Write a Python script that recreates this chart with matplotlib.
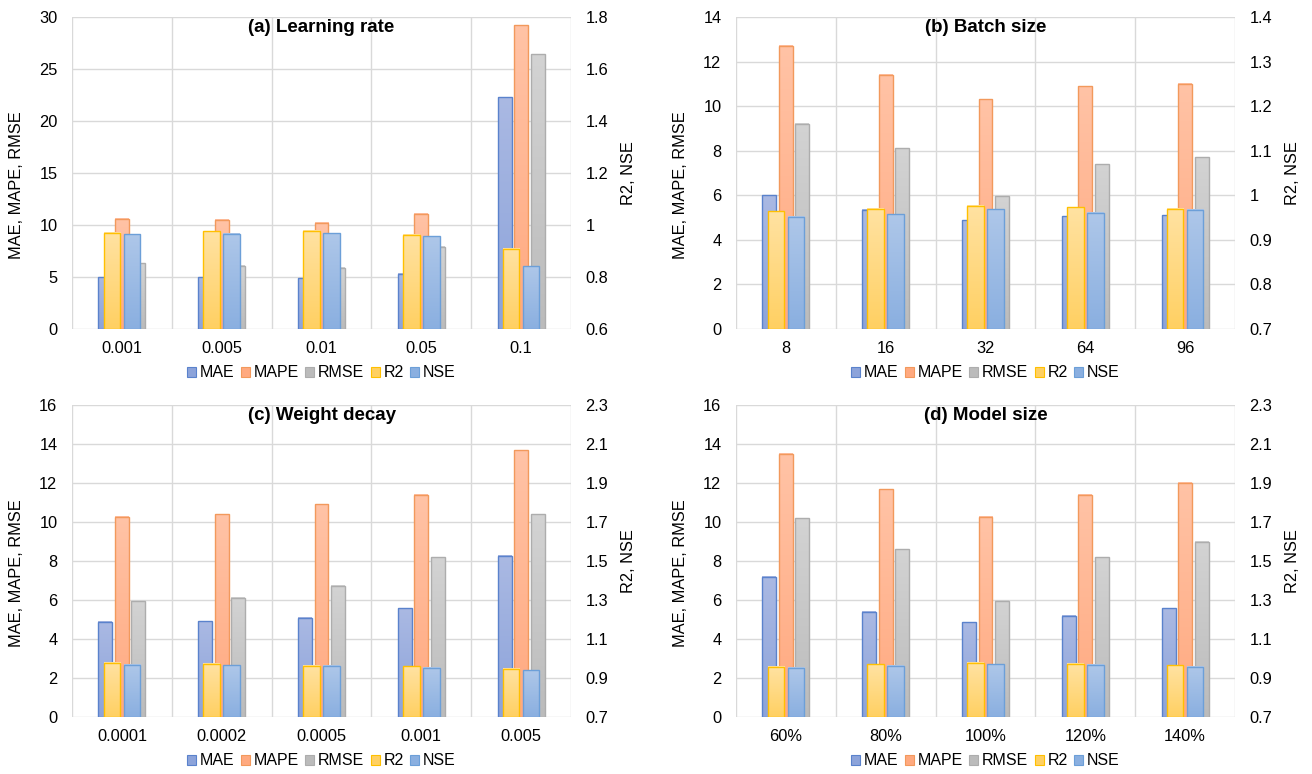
import numpy as np
import matplotlib
matplotlib.use("Agg")
import matplotlib.pyplot as plt
from matplotlib.colors import LinearSegmentedColormap
from matplotlib.patches import Patch

plt.rcParams['font.family'] = ['Liberation Sans', 'DejaVu Sans']

# ---- data -------------------------------------------------------------
a_cats = ['0.001', '0.005', '0.01', '0.05', '0.1']
a_mae = [5.0, 5.0, 4.9, 5.3, 22.3]
a_mape = [10.6, 10.5, 10.2, 11.1, 29.2]
a_rmse = [6.3, 6.1, 5.9, 7.9, 26.4]
a_r2 = [0.971, 0.975, 0.978, 0.962, 0.909]
a_nse = [0.964, 0.966, 0.969, 0.957, 0.841]

b_cats = ['8', '16', '32', '64', '96']
b_mae = [6.0, 5.35, 4.87, 5.07, 5.1]
b_mape = [12.7, 11.4, 10.3, 10.9, 11.0]
b_rmse = [9.2, 8.1, 5.95, 7.4, 7.7]
b_r2 = [0.964, 0.970, 0.976, 0.973, 0.970]
b_nse = [0.952, 0.957, 0.969, 0.961, 0.967]

c_cats = ['0.0001', '0.0002', '0.0005', '0.001', '0.005']
c_mae = [4.88, 4.91, 5.1, 5.58, 8.28]
c_mape = [10.28, 10.4, 10.9, 11.41, 13.67]
c_rmse = [5.94, 6.11, 6.72, 8.18, 10.4]
c_r2 = [0.977, 0.974, 0.964, 0.960, 0.948]
c_nse = [0.969, 0.965, 0.962, 0.952, 0.941]

d_cats = ['60%', '80%', '100%', '120%', '140%']
d_mae = [7.19, 5.39, 4.86, 5.2, 5.58]
d_mape = [13.5, 11.69, 10.28, 11.41, 12.01]
d_rmse = [10.2, 8.6, 5.95, 8.18, 9.0]
d_r2 = [0.957, 0.970, 0.979, 0.972, 0.965]
d_nse = [0.953, 0.962, 0.970, 0.967, 0.957]

titles = ['(a) Learning rate', '(b) Batch size', '(c) Weight decay', '(d) Model size']
left_ranges = [(0, 30, 5), (0, 14, 2), (0, 16, 2), (0, 16, 2)]
right_ranges = [(0.6, 1.8, 0.2), (0.7, 1.4, 0.1), (0.7, 2.3, 0.2), (0.7, 2.3, 0.2)]

# ---- styling ----------------------------------------------------------
series_style = {
    # name: (top colour, bottom colour, edge colour)
    'MAE':  ('#AAB9E3', '#8CA3DA', '#5A82CC'),
    'MAPE': ('#FFC3A6', '#FFA97F', '#F2995C'),
    'RMSE': ('#D3D3D3', '#BBBBBB', '#ADADAD'),
    'R2':   ('#FFE2A2', '#FFD062', '#FFC000'),
    'NSE':  ('#AEC7E9', '#8AAFE0', '#6C9FD8'),
}
GRID = '#D9D9D9'
FS = 11.8

W1, STEP1 = 0.14, 0.165      # left-axis bars
W2, OFF2 = 0.165, 0.10       # right-axis bars

grad = np.linspace(0, 1, 256).reshape(-1, 1)


def gradient_bars(ax, x, heights, base, width, name, z):
    top, bottom, edge = series_style[name]
    cmap = LinearSegmentedColormap.from_list(name, [bottom, top])
    bars = ax.bar(x, np.asarray(heights) - base, width, bottom=base,
                  facecolor='none', edgecolor=edge, linewidth=1.0, zorder=z + 0.1)
    for p in bars.patches:
        x0, y0 = p.get_x(), p.get_y()
        ax.imshow(grad, extent=(x0, x0 + p.get_width(), y0, y0 + p.get_height()),
                  origin='lower', cmap=cmap, aspect='auto', interpolation='bicubic',
                  clip_path=p, clip_on=True, zorder=z)
    return bars


def fmt(v):
    return f'{round(v, 3):g}'


fig = plt.figure(figsize=(13.12, 7.74), dpi=100)
W, H = 1312, 774
rects = [(72, 329), (736, 329), (72, 717), (736, 717)]
pw, ph = 499, 312

panels = [
    (a_cats, a_mae, a_mape, a_rmse, a_r2, a_nse),
    (b_cats, b_mae, b_mape, b_rmse, b_r2, b_nse),
    (c_cats, c_mae, c_mape, c_rmse, c_r2, c_nse),
    (d_cats, d_mae, d_mape, d_rmse, d_r2, d_nse),
]

for i, (cats, mae, mape, rmse, r2, nse) in enumerate(panels):
    lx, by = rects[i]
    ax = fig.add_axes([lx / W, 1 - by / H, pw / W, ph / H])
    ax2 = ax.twinx()
    x = np.arange(len(cats))

    lo, hi, st = left_ranges[i]
    rlo, rhi, rst = right_ranges[i]

    gradient_bars(ax, x - STEP1, mae, 0, W1, 'MAE', 2)
    gradient_bars(ax, x, mape, 0, W1, 'MAPE', 2)
    gradient_bars(ax, x + STEP1, rmse, 0, W1, 'RMSE', 2)
    gradient_bars(ax2, x - OFF2, r2, rlo, W2, 'R2', 2)
    gradient_bars(ax2, x + OFF2, nse, rlo, W2, 'NSE', 2)

    ax.set_xlim(-0.5, len(cats) - 0.5)
    ax2.set_xlim(-0.5, len(cats) - 0.5)
    ax.set_ylim(lo, hi)
    ax2.set_ylim(rlo, rhi)

    lt = np.arange(lo, hi + st / 2, st)
    rt = np.arange(rlo, rhi + rst / 2, rst)
    ax.set_yticks(lt)
    ax.set_yticklabels([fmt(v) for v in lt])
    ax2.set_yticks(rt)
    ax2.set_yticklabels([fmt(v) for v in rt])
    ax.set_xticks(x)
    ax.set_xticklabels(cats)

    # category separators and value gridlines
    for b in np.arange(-0.5, len(cats), 1.0):
        ax.axvline(b, color=GRID, lw=1.0, zorder=0.5)
    for v in lt:
        ax.axhline(v, color=GRID, lw=1.0, zorder=0.5)

    for a in (ax, ax2):
        for s in a.spines.values():
            s.set_visible(False)
        a.tick_params(length=0, labelsize=FS, colors='#000000')
    ax.tick_params(axis='y', pad=10.5)
    ax2.tick_params(axis='y', pad=10.5)
    ax.tick_params(axis='x', pad=8.5)
    ax2.patch.set_visible(False)

    ax.set_ylabel('MAE, MAPE, RMSE', fontsize=FS)
    ax.yaxis.set_label_coords(-0.097, 0.46)
    ax2.set_ylabel('R2, NSE', fontsize=FS, rotation=90)
    ax2.yaxis.set_label_coords(1.1, 0.5)

    ax2.text(0.5, 1 - 10.5 / ph, titles[i], transform=ax.transAxes,
             ha='center', va='center', fontsize=13.5, fontweight='bold', zorder=10)

    handles = []
    for name in ['MAE', 'MAPE', 'RMSE', 'R2', 'NSE']:
        top, bottom, edge = series_style[name]
        handles.append(Patch(facecolor=bottom, edgecolor=edge, linewidth=0.8, label=name))
    ax.legend(handles=handles, loc='center', bbox_to_anchor=(0.5, -0.141),
              ncol=5, frameon=False, fontsize=11.5, handlelength=0.55,
              handleheight=0.65, handletextpad=0.25, columnspacing=0.4,
              borderaxespad=0)

fig.savefig('out.png', dpi=100)
